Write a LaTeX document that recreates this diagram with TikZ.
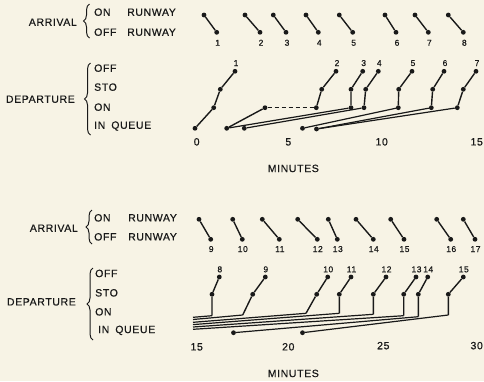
\documentclass[tikz,border=0pt]{standalone}
\usepackage{fontspec}
\newfontfamily\labfont[LetterSpace=6,FakeBold=0.6]{Liberation Sans}
\usetikzlibrary{decorations.pathreplacing}
\definecolor{paper}{RGB}{247,243,229}
\definecolor{ink}{RGB}{25,25,25}
\begin{document}
\begin{tikzpicture}[x=1pt,y=-1pt,
  dot/.style={circle,fill=ink,inner sep=0pt,minimum size=4.8pt},
  ln/.style={draw=ink,line width=1.4pt},
  ql/.style={draw=ink,line width=1.2pt},
  dsh/.style={draw=ink,line width=1.3pt,dash pattern=on 4pt off 3pt},
  lab/.style={font=\labfont\fontsize{10.5}{12}\selectfont,text=ink,inner sep=0pt,text height=7.5pt,text depth=0pt},
  num/.style={font=\labfont\fontsize{8.5}{10}\selectfont,text=ink,inner sep=0pt,text height=6pt,text depth=0pt},
  brc/.style={draw=ink,line width=1pt,decorate,decoration={brace,amplitude=6pt}}]
\path[use as bounding box,fill=paper] (0,0) rectangle (484,381);

% ================= TOP PANEL =================
\node[lab,anchor=east] (arrT) at (77,22) {ARRIVAL};
\node[lab,anchor=west] (onT) at (94,12) {ON};
\node[lab,anchor=west] (rwT1) at (127,12) {RUNWAY};
\node[lab,anchor=west] (offT) at (94,32) {OFF};
\node[lab,anchor=west] (rwT2) at (127,32) {RUNWAY};
\coordinate (bTa) at (89.5,38); \coordinate (bTb) at (89.5,4);
\draw[brc] (bTa) -- (bTb);

\node[lab,anchor=east] (depT) at (75,99) {DEPARTURE};
\node[lab,anchor=west] (doffT) at (94,68) {OFF};
\node[lab,anchor=west] (dstoT) at (94,87) {STO};
\node[lab,anchor=west] (donT) at (94,107) {ON};
\node[lab,anchor=west] (dqT) at (94,125) {IN\hspace{6pt}QUEUE};
\coordinate (bTc) at (90.5,135); \coordinate (bTd) at (90.5,63);
\draw[brc] (bTc) -- (bTd);

% arrivals 1-8
\foreach \i/\xa/\xb in {1/204/216.7, 2/245/260, 3/273.3/286, 4/306/318.3, 5/339.3/352.7, 6/385/396, 7/415/428.3, 8/448.3/463.3}{
  \node[dot] (ra\i) at (\xa,15) {};
  \node[dot] (rb\i) at (\xb,32.3) {};
  \draw[ln] (ra\i) -- (rb\i);
  \node[num] (rl\i) at (\xb+1,42.7) {\i};
}

% departures 1-7
\node[dot] (q1) at (195,128.3) {};
\node[dot] (qA) at (226.7,128.3) {};
\node[dot] (qB) at (244.3,128.3) {};
\node[dot] (qC) at (302.5,128.3) {};
\node[dot] (qD) at (316.5,129) {};
\node[dot] (w2) at (265,107.7) {};
\foreach \i/\xo/\xs/\xf in {1/213.7/220.3/235, 2/316.3/321.7/336, 3/351/351/362.7, 4/364/365.7/378.3, 5/398.3/398.7/412, 6/431.3/432.7/444, 7/457.3/463.3/476}{
  \node[dot] (on\i) at (\xo,107.7) {};
  \node[dot] (st\i) at (\xs,89.3) {};
  \node[dot] (of\i) at (\xf,71.3) {};
  \draw[ln] (on\i) -- (st\i) -- (of\i);
  \node[num] (dl\i) at (\xf+1,63) {\i};
}
\draw[ln] (q1) -- (on1);
\draw[ln] (qA) -- (w2);
\draw[dsh] (w2) -- (on2);
\draw[ql] (qA) -- (on3);
\draw[ql] (qB) -- (on4);
\draw[ql] (qC) -- (on5);
\draw[ql] (qD) -- (on6);
\draw[ql] (qD) -- (on7);

\node[lab] (t0) at (196.7,141.7) {0};
\node[lab] (t5) at (288.3,141.7) {5};
\node[lab] (t10) at (381.7,141.7) {10};
\node[lab] (t15) at (476.7,141.7) {15};
\node[lab] (minT) at (293.3,168.3) {MINUTES};

% ================= BOTTOM PANEL =================
\node[lab,anchor=east] (arrB) at (78,228) {ARRIVAL};
\node[lab,anchor=west] (onB) at (94,217.7) {ON};
\node[lab,anchor=west] (rwB1) at (128,217.7) {RUNWAY};
\node[lab,anchor=west] (offB) at (94,236.7) {OFF};
\node[lab,anchor=west] (rwB2) at (128,236.7) {RUNWAY};
\coordinate (bBa) at (92,244); \coordinate (bBb) at (92,210);
\draw[brc] (bBa) -- (bBb);

\node[lab,anchor=east] (depB) at (76,301.7) {DEPARTURE};
\node[lab,anchor=west] (doffB) at (95,273.3) {OFF};
\node[lab,anchor=west] (dstoB) at (95,292.7) {STO};
\node[lab,anchor=west] (donB) at (95,311.7) {ON};
\node[lab,anchor=west] (dqB) at (98,329.3) {IN\hspace{6pt}QUEUE};
\coordinate (bBc) at (93,340); \coordinate (bBd) at (93,268);
\draw[brc] (bBc) -- (bBd);

% arrivals 9-17
\foreach \i/\xa/\xb in {9/199/210.7, 10/232.7/242.3, 11/262.3/279.3, 12/297.7/317.3, 13/328.3/337.3, 14/356/373.3, 15/390.7/404, 16/436.7/450.7, 17/463.3/475}{
  \node[dot] (ra\i) at (\xa,219.3) {};
  \node[dot] (rb\i) at (\xb,239.3) {};
  \draw[ln] (ra\i) -- (rb\i);
  \node[num] (rl\i) at (\xb+0.5,249) {\i};
}

% departures 8-15
\foreach \i/\xo/\yo/\xs/\xf in {8/212/315.7/212/219.3, 9/242.7/315/252.7/265.3, 10/306/313.3/316.7/327.7, 11/339.3/313.3/339.3/351, 12/373.3/314.3/373.3/386, 13/403.7/315.7/403.7/416, 14/418.3/316.7/418.3/427.7, 15/448.3/315/448.3/463.3}{
  \coordinate (on\i) at (\xo,\yo);
  \node[dot] (st\i) at (\xs,294.3) {};
  \node[dot] (of\i) at (\xf,277) {};
  \draw[ln] (on\i) -- (st\i) -- (of\i);
  \node[num] (dl\i) at (\xf+0.5,269.3) {\i};
}
\coordinate (L8) at (193,317.3);
\coordinate (L9) at (193,319.5);
\coordinate (L10) at (193,322.3);
\coordinate (L11) at (193,324.6);
\coordinate (L12) at (193,327);
\coordinate (L13) at (193,329.3);
\node[dot] (qE) at (233.5,332.7) {};
\node[dot] (qF) at (302.5,332.7) {};
\foreach \i in {8,...,13}{ \draw[ql] (L\i) -- (on\i); }
\draw[ql] (qE) -- (on14);
\draw[ql] (qF) -- (on15);

\node[lab] (u15) at (196.7,346.7) {15};
\node[lab] (u20) at (288.3,346.7) {20};
\node[lab] (u25) at (383.3,345.5) {25};
\node[lab] (u30) at (476.7,345.5) {30};
\node[lab] (minB) at (293.3,373.3) {MINUTES};
\end{tikzpicture}
\end{document}
